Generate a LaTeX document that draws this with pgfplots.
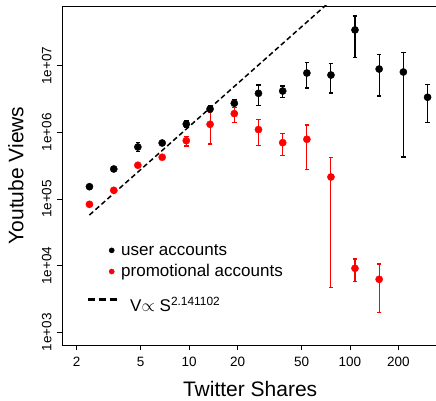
\documentclass[border=0pt]{standalone}
\usepackage{pgfplots}
\pgfplotsset{compat=1.18}
\usepackage{pgfplotstable}
\usepackage{fontspec}
\setmainfont{Liberation Sans}

\pgfplotstableread{
x y ep em
2.4 1.53e5 5e3 5e3
3.4 2.82e5 1.3e4 1.3e4
4.8 6.03e5 0.97e5 0.90e5
6.8 6.92e5 0.32e5 0.31e5
9.6 1.33e6 0.15e6 0.13e6
13.5 2.24e6 0.27e6 0.24e6
19.1 2.73e6 0.40e6 0.35e6
27 3.85e6 1.28e6 1.30e6
38.2 4.17e6 0.78e6 0.86e6
54 7.76e6 3.24e6 3.14e6
76.2 7.24e6 3.46e6 3.35e6
107.5 3.44e7 2.13e7 2.12e7
152 8.91e6 5.59e6 5.40e6
215 8.04e6 7.66e6 7.613e6
304 3.36e6 1.90e6 1.94e6
}\userdata

\pgfplotstableread{
x y ep em
2.4 8.32e4 3e3 3e3
3.4 1.35e5 5e3 5e3
4.8 3.21e5 1.9e4 1.8e4
6.8 4.23e5 2.4e4 2.5e4
9.6 7.50e5 1.11e5 1.26e5
13.5 1.32e6 0.65e6 0.652e6
19.1 1.91e6 0.43e6 0.49e6
27 1.10e6 0.47e6 0.469e6
38.2 7.00e5 2.68e5 2.53e5
54 7.87e5 5.03e5 5.08e5
76.2 2.14e5 2.09e5 2.093e5
107.5 9.12e3 3.48e3 3.38e3
152 6.24e3 4.36e3 4.24e3
}\promodata

\begin{document}
\begin{tikzpicture}
\begin{axis}[
  at={(0,0)}, anchor=south west,
  scale only axis, width=375.7pt, height=339pt,
  xmode=log, ymode=log,
  xmin=1.627, xmax=353, ymin=645, ymax=7.866e7,
  axis line style={line width=0.8pt},
  tick align=outside, tick pos=left,
  major tick length=5.5pt,
  tick style={black, line width=0.8pt},
  xminorticks=false, yminorticks=false,
  xtick={2,5,10,20,50,100,200},
  xticklabels={2,5,10,20,50,100,200},
  ytick={1e3,1e4,1e5,1e6,1e7},
  yticklabels={1e+03,1e+04,1e+05,1e+06,1e+07},
  tick label style={font=\fontsize{13.5}{16}\selectfont},
  xticklabel style={anchor=north, inner sep=0pt},
  yticklabel style={rotate=90, anchor=south, inner sep=0pt},
  xticklabel shift=6.5pt,
  yticklabel shift=5pt,
  xlabel={Twitter Shares},
  ylabel={Youtube Views},
  every axis x label/.style={at={(axis description cs:0.5,-0.1305)}, anchor=center, inner sep=0pt, font=\fontsize{21}{25}\selectfont},
  every axis y label/.style={at={(axis description cs:-0.1238,0.5)}, rotate=90, anchor=center, inner sep=0pt, font=\fontsize{21}{25}\selectfont},
  legend cell align=left,
  legend style={at={(axis description cs:0.0631,0.304)}, anchor=north west, draw=none, fill=none,
    font=\fontsize{17}{20}\selectfont, inner sep=0pt, row sep=4pt},
  clip=true,
]
\addplot[only marks, mark=*, mark size=3.6pt, black,
  error bars/.cd, y dir=both, y explicit,
  error bar style={line width=1.1pt, black},
  error mark options={rotate=90, mark size=2.3pt, line width=1.1pt, black},
  /pgfplots/legend image code/.code={\path[draw=none,fill=none] (0pt,0pt) -- (30pt,0pt); \fill[black] (24pt,0pt) circle (2.6pt);}]
  table[x=x, y=y, y error plus=ep, y error minus=em]{\userdata};
\addlegendentry{user accounts}
\addplot[only marks, mark=*, mark size=3.6pt, red,
  error bars/.cd, y dir=both, y explicit,
  error bar style={line width=1.1pt, red},
  error mark options={rotate=90, mark size=2.3pt, line width=1.1pt, red},
  /pgfplots/legend image code/.code={\path[draw=none,fill=none] (0pt,0pt) -- (30pt,0pt); \fill[red] (24pt,0pt) circle (2.6pt);}]
  table[x=x, y=y, y error plus=ep, y error minus=em]{\promodata};
\addlegendentry{promotional accounts}
\addplot[black, line width=1.5pt, dash pattern=on 5pt off 3pt,
  /pgfplots/legend image code/.code={\draw[black, solid, line width=3pt, dash pattern=on 7pt off 4pt] (0pt,0pt) -- (30pt,0pt);}]
  coordinates {(2.4,5.75e4) (90,1.35e8)};
\addlegendentry{\rule{0pt}{25pt}\hspace{9pt}V$\propto$ S\textsuperscript{2.141102}}
\end{axis}
\pgfresetboundingbox
\useasboundingbox (-62.3pt,-56pt) rectangle (373.7pt,345pt);
\end{tikzpicture}
\end{document}
